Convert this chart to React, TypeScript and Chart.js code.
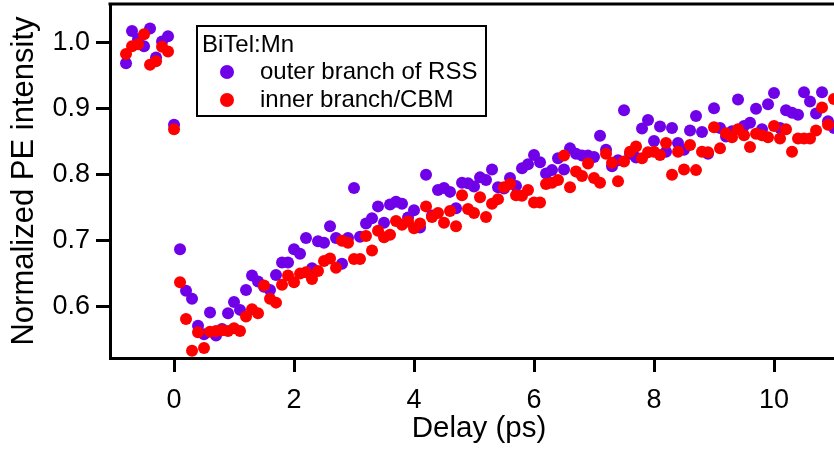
import React, { useEffect, useRef } from 'react';
import { Chart, registerables } from 'chart.js';

Chart.register(...registerables);

// Delay (ps)
const delays = [
  -0.8, -0.7, -0.6, -0.5, -0.4, -0.3, -0.2, -0.1, 0.0,
  0.1, 0.2, 0.3, 0.4, 0.5, 0.6, 0.7, 0.8, 0.9, 1.0,
  1.1, 1.2, 1.3, 1.4, 1.5, 1.6, 1.7, 1.8, 1.9, 2.0,
  2.1, 2.2, 2.3, 2.4, 2.5, 2.6, 2.7, 2.8, 2.9, 3.0,
  3.1, 3.2, 3.3, 3.4, 3.5, 3.6, 3.7, 3.8, 3.9, 4.0,
  4.1, 4.2, 4.3, 4.4, 4.5, 4.6, 4.7, 4.8, 4.9, 5.0,
  5.1, 5.2, 5.3, 5.4, 5.5, 5.6, 5.7, 5.8, 5.9, 6.0,
  6.1, 6.2, 6.3, 6.4, 6.5, 6.6, 6.7, 6.8, 6.9, 7.0,
  7.1, 7.2, 7.3, 7.4, 7.5, 7.6, 7.7, 7.8, 7.9, 8.0,
  8.1, 8.2, 8.3, 8.4, 8.5, 8.6, 8.7, 8.8, 8.9, 9.0,
  9.1, 9.2, 9.3, 9.4, 9.5, 9.6, 9.7, 9.8, 9.9, 10.0,
  10.1, 10.2, 10.3, 10.4, 10.5, 10.6, 10.7, 10.8, 10.9, 11.0,
];

// outer branch of RSS (purple)
const outerBranch = [
  0.969, 1.018, 1.006, 0.995, 1.022, 0.978, 1.002, 1.010, 0.876,
  0.687, 0.624, 0.612, 0.571, 0.558, 0.591, 0.556, 0.566, 0.590, 0.607,
  0.595, 0.625, 0.647, 0.638, 0.630, 0.625, 0.648, 0.667, 0.667, 0.687,
  0.680, 0.704, 0.658, 0.699, 0.697, 0.722, 0.704, 0.665, 0.704, 0.780,
  0.706, 0.726, 0.734, 0.752, 0.727, 0.755, 0.759, 0.756, 0.735, 0.746,
  0.720, 0.800, 0.738, 0.777, 0.780, 0.774, 0.749, 0.788, 0.787, 0.782,
  0.796, 0.792, 0.808, 0.781, 0.779, 0.795, 0.783, 0.810, 0.816, 0.830,
  0.819, 0.802, 0.807, 0.825, 0.808, 0.840, 0.832, 0.829, 0.829, 0.827,
  0.859, 0.838, 0.813, 0.822, 0.898, 0.832, 0.826, 0.870, 0.883, 0.851,
  0.873, 0.835, 0.871, 0.848, 0.838, 0.867, 0.889, 0.865, 0.832, 0.901,
  0.871, 0.858, 0.866, 0.914, 0.874, 0.879, 0.900, 0.869, 0.907, 0.924,
  0.871, 0.898, 0.894, 0.891, 0.925, 0.911, 0.893, 0.925, 0.881, 0.871,
];

// inner branch/CBM (red)
const innerBranch = [
  0.983, 0.995, 0.998, 1.013, 0.967, 0.972, 0.994, 0.987, 0.869,
  0.637, 0.581, 0.533, 0.561, 0.537, 0.562, 0.563, 0.564, 0.563, 0.567,
  0.563, 0.585, 0.596, 0.590, 0.632, 0.612, 0.606, 0.633, 0.647, 0.637,
  0.650, 0.652, 0.642, 0.654, 0.669, 0.673, 0.659, 0.700, 0.697, 0.672,
  0.672, 0.707, 0.685, 0.715, 0.705, 0.709, 0.730, 0.724, 0.729, 0.719,
  0.726, 0.752, 0.736, 0.742, 0.727, 0.745, 0.722, 0.769, 0.748, 0.742,
  0.766, 0.736, 0.756, 0.763, 0.781, 0.786, 0.769, 0.768, 0.777, 0.758,
  0.758, 0.786, 0.788, 0.792, 0.829, 0.781, 0.805, 0.798, 0.817, 0.795,
  0.788, 0.832, 0.818, 0.790, 0.820, 0.835, 0.843, 0.825, 0.834, 0.835,
  0.830, 0.848, 0.800, 0.835, 0.808, 0.845, 0.807, 0.835, 0.834, 0.872,
  0.840, 0.863, 0.857, 0.869, 0.860, 0.842, 0.862, 0.860, 0.857, 0.874,
  0.855, 0.869, 0.835, 0.855, 0.855, 0.855, 0.867, 0.902, 0.876, 0.915,
];

const xTicks = [0, 2, 4, 6, 8, 10];
const yTicks = [0.6, 0.7, 0.8, 0.9, 1.0];
const legendTitle = 'BiTel:Mn';
const seriesNames = ['outer branch of RSS', 'inner branch/CBM'];
const xTitle = 'Delay (ps)';
const yTitle = 'Normalized PE intensity';

const PURPLE = 'rgb(112,0,232)';
const RED = 'rgb(255,0,0)';
const FONT = "'Liberation Sans', Arial, Helvetica, sans-serif";

const framePlugin = {
  id: 'frameAndLegend',
  afterDraw(chart: any) {
    const { ctx, chartArea } = chart;
    ctx.save();
    // top and right spines
    ctx.strokeStyle = '#000';
    ctx.lineWidth = 3;
    ctx.beginPath();
    ctx.moveTo(chartArea.left - 1.5, chartArea.top);
    ctx.lineTo(chartArea.right, chartArea.top);
    ctx.stroke();
    ctx.beginPath();
    ctx.moveTo(chartArea.right, chartArea.top);
    ctx.lineTo(chartArea.right, chartArea.bottom);
    ctx.stroke();

    // legend box
    ctx.lineWidth = 2;
    ctx.fillStyle = '#fff';
    ctx.fillRect(197, 26, 289, 90);
    ctx.strokeRect(197, 26, 289, 90);
    ctx.fillStyle = '#000';
    ctx.font = `24px ${FONT}`;
    ctx.textBaseline = 'alphabetic';
    ctx.textAlign = 'left';
    ctx.fillText(legendTitle, 202, 52);
    const colors = [PURPLE, RED];
    const rowsY = [72, 100];
    seriesNames.forEach((name, i) => {
      ctx.fillStyle = colors[i];
      ctx.beginPath();
      ctx.arc(227, rowsY[i], 7, 0, Math.PI * 2);
      ctx.fill();
      ctx.fillStyle = '#000';
      ctx.fillText(name, 260, rowsY[i] + 7);
    });
    ctx.restore();
  },
};

export default function App() {
  const canvasRef = useRef<HTMLCanvasElement | null>(null);

  useEffect(() => {
    if (!canvasRef.current) return;
    const toPoints = (ys: number[]) => delays.map((x, i) => ({ x, y: ys[i] }));
    const chart = new Chart(canvasRef.current, {
      type: 'scatter',
      data: {
        datasets: [
          {
            label: seriesNames[0],
            data: toPoints(outerBranch),
            backgroundColor: PURPLE,
            borderWidth: 0,
            pointRadius: 6,
            order: 1,
          },
          {
            label: seriesNames[1],
            data: toPoints(innerBranch),
            backgroundColor: RED,
            borderWidth: 0,
            pointRadius: 6,
            order: 0,
          },
        ],
      },
      plugins: [framePlugin],
      options: {
        animation: false,
        responsive: false,
        devicePixelRatio: 1,
        layout: { padding: { top: 4, right: 0, bottom: 0, left: 0 }, autoPadding: false },
        plugins: { legend: { display: false }, tooltip: { enabled: false } },
        scales: {
          x: {
            type: 'linear',
            min: -1.067,
            max: 11.233,
            afterBuildTicks: (scale: any) => {
              scale.ticks = xTicks.map((v) => ({ value: v }));
            },
            afterFit: (scale: any) => {
              scale.height = 95;
              scale.paddingLeft = 0;
              scale.paddingRight = 0;
            },
            grid: {
              display: true,
              drawOnChartArea: false,
              drawTicks: true,
              tickLength: 14,
              tickWidth: 3,
              tickColor: '#000',
            },
            border: { display: true, width: 3, color: '#000' },
            ticks: {
              color: '#000',
              padding: 12,
              maxRotation: 0,
              font: { family: FONT, size: 27 },
              callback: (v: any) => String(v),
            },
            title: {
              display: true,
              text: xTitle,
              color: '#000',
              font: { family: FONT, size: 29.5 },
              padding: { top: 0, bottom: 6 },
            },
          },
          y: {
            type: 'linear',
            min: 0.522,
            max: 1.059,
            afterBuildTicks: (scale: any) => {
              scale.ticks = yTicks.map((v) => ({ value: v }));
            },
            afterFit: (scale: any) => {
              scale.width = 110;
              scale.paddingTop = 0;
              scale.paddingBottom = 0;
            },
            grid: {
              display: true,
              drawOnChartArea: false,
              drawTicks: true,
              tickLength: 14,
              tickWidth: 3,
              tickColor: '#000',
            },
            border: { display: true, width: 3, color: '#000' },
            ticks: {
              color: '#000',
              padding: 6,
              font: { family: FONT, size: 27 },
              callback: (v: any) => Number(v).toFixed(1),
            },
            title: {
              display: true,
              text: yTitle,
              color: '#000',
              font: { family: FONT, size: 31 },
              padding: { top: 6, bottom: 0 },
            },
          },
        },
      },
    });
    return () => chart.destroy();
  }, []);

  return (
    <div
      style={{
        position: 'fixed',
        left: 0,
        top: 0,
        width: 834,
        height: 453,
        overflow: 'hidden',
        background: '#fff',
      }}
    >
      <canvas ref={canvasRef} width={848} height={453} style={{ display: 'block', width: 848, height: 453 }} />
    </div>
  );
}
